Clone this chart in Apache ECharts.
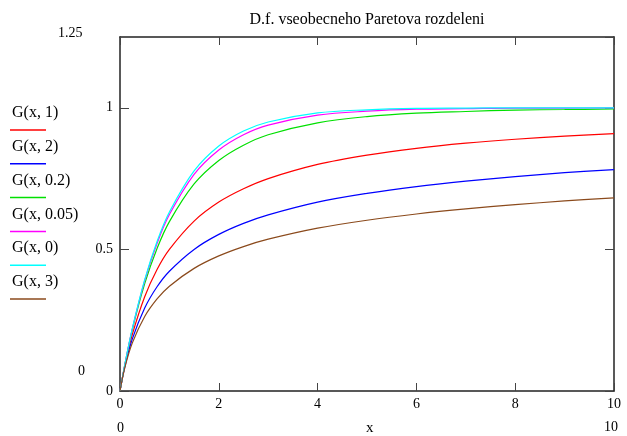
<!DOCTYPE html>
<html>
<head>
<meta charset="utf-8">
<script src="https://cdn.jsdelivr.net/npm/echarts@6/dist/echarts.min.js"></script>
<style>
html, body { margin: 0; padding: 0; background: #fff; }
#chart { width: 627px; height: 436px; }
</style>
</head>
<body>
<div id="chart"></div>
<script>
// x samples and values
var xs = [0, 0.1, 0.25, 0.5, 0.75, 1, 1.5, 2, 2.5, 3, 4, 5, 6, 7, 8, 9, 10];
var g1 = [0, 0.091, 0.2, 0.333, 0.429, 0.5, 0.6, 0.667, 0.714, 0.75, 0.8, 0.833, 0.857, 0.875, 0.889, 0.9, 0.909];
var g2 = [0, 0.087, 0.184, 0.293, 0.368, 0.423, 0.5, 0.553, 0.592, 0.622, 0.667, 0.698, 0.722, 0.741, 0.757, 0.771, 0.782];
var g02 = [0, 0.094, 0.217, 0.379, 0.503, 0.598, 0.731, 0.814, 0.868, 0.905, 0.947, 0.969, 0.981, 0.987, 0.992, 0.994, 0.996];
var g005 = [0, 0.095, 0.22, 0.39, 0.521, 0.623, 0.765, 0.851, 0.905, 0.939, 0.974, 0.988, 0.995, 0.997, 0.999, 0.999, 1];
var g0 = [0, 0.095, 0.221, 0.393, 0.528, 0.632, 0.777, 0.865, 0.918, 0.95, 0.982, 0.993, 0.998, 0.999, 1, 1, 1];
var g3 = [0, 0.084, 0.17, 0.263, 0.325, 0.37, 0.433, 0.477, 0.51, 0.536, 0.575, 0.603, 0.625, 0.643, 0.658, 0.671, 0.682];

var names = ['G(x, 1)', 'G(x, 2)', 'G(x, 0.2)', 'G(x, 0.05)', 'G(x, 0)', 'G(x, 3)'];
var values = [g1, g2, g02, g005, g0, g3];
var colors = ['#ff0000', '#0000ff', '#00e000', '#ff00ff', '#00ffff', '#8b4a1c'];

var font = '"Liberation Serif", "DejaVu Serif", serif';

function pairs(ys) {
	return xs.map(function (x, i) { return [x, ys[i]]; });
}

var series = names.map(function (n, i) {
	return {
		name: n,
		type: 'line',
		data: pairs(values[i]),
		smooth: 0.35,
		showSymbol: false,
		lineStyle: { color: colors[i], width: 1.2 },
		z: 2
	};
});

// legend drawn as text with a short coloured line under each name
var legendItems = [];
names.forEach(function (n, i) {
	var y = 105 + i * 33.8;
	legendItems.push({
		type: 'text', left: 12, top: y,
		style: { text: n, font: '16px ' + font, fill: '#000' }
	});
	legendItems.push({
		type: 'line',
		shape: { x1: 10, y1: y + 25, x2: 46, y2: y + 25 },
		style: { stroke: colors[i], lineWidth: 1.5 }
	});
});

var extraTexts = [
	{ type: 'text', left: 58, top: 26, style: { text: '1.25', font: '14px ' + font, fill: '#000' } },
	{ type: 'text', left: 78, top: 364, style: { text: '0', font: '14px ' + font, fill: '#000' } },
	{ type: 'text', left: 117, top: 421, style: { text: '0', font: '14px ' + font, fill: '#000' } },
	{ type: 'text', left: 366, top: 421, style: { text: 'x', font: '15px ' + font, fill: '#000' } },
	{ type: 'text', left: 604, top: 420, style: { text: '10', font: '14px ' + font, fill: '#000' } }
];

function axisLine() {
	return { show: true, onZero: false, lineStyle: { color: '#222', width: 1.5 } };
}

var chart = echarts.init(document.getElementById('chart'));
chart.setOption({
	animation: false,
	backgroundColor: '#fff',
	title: {
		text: 'D.f. vseobecneho Paretova rozdeleni',
		left: 362, top: 7, textAlign: 'center',
		textStyle: { fontFamily: font, fontSize: 16, fontWeight: 'normal', color: '#000' }
	},
	grid: { left: 120, right: 13, top: 37, bottom: 45 },
	xAxis: [{
		type: 'value', min: 0, max: 10, interval: 2, position: 'bottom',
		axisLine: axisLine(),
		axisTick: { show: true, inside: true, length: 8, lineStyle: { color: '#444' } },
		axisLabel: { fontFamily: font, fontSize: 14, color: '#000', margin: 6 },
		splitLine: { show: false }
	}, {
		type: 'value', min: 0, max: 10, interval: 2, position: 'top',
		axisLine: axisLine(),
		axisTick: { show: true, inside: true, length: 8, lineStyle: { color: '#444' } },
		axisLabel: { show: false },
		splitLine: { show: false }
	}],
	yAxis: [{
		type: 'value', min: 0, max: 1.25, interval: 0.5, position: 'left',
		axisLine: axisLine(),
		axisTick: { show: true, inside: true, length: 9, lineStyle: { color: '#444' } },
		axisLabel: { fontFamily: font, fontSize: 14, color: '#000', margin: 7, showMaxLabel: false },
		splitLine: { show: false }
	}, {
		type: 'value', min: 0, max: 1.25, interval: 0.5, position: 'right',
		axisLine: axisLine(),
		axisTick: { show: true, inside: true, length: 9, lineStyle: { color: '#444' } },
		axisLabel: { show: false },
		splitLine: { show: false }
	}],
	graphic: legendItems.concat(extraTexts),
	series: series
});
window.addEventListener('resize', function () {
	chart.resize();
});
</script>
</body>
</html>
